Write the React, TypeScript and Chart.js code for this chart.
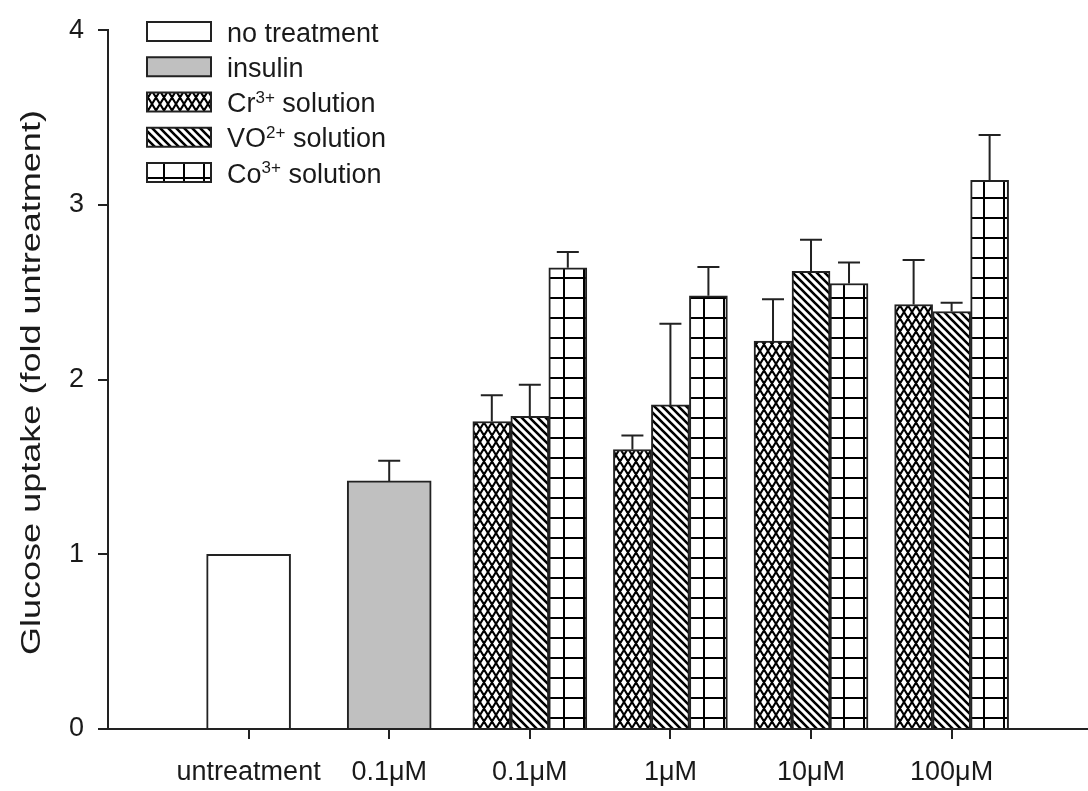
import React, { useEffect, useRef } from 'react';
import { Chart, registerables } from 'chart.js';

Chart.register(...registerables);

// ---------- data ----------
const categories = ['untreatment', '0.1\u03bcM', '0.1\u03bcM', '1\u03bcM', '10\u03bcM', '100\u03bcM'];

const noTreatment: (number | null)[] = [1.0, null, null, null, null, null];
const noTreatmentErr: (number | null)[] = [null, null, null, null, null, null];

const insulin: (number | null)[] = [null, 1.42, null, null, null, null];
const insulinErr: (number | null)[] = [null, 0.115, null, null, null, null];

const crSolution: (number | null)[] = [null, null, 1.76, 1.6, 2.22, 2.43];
const crErr: (number | null)[] = [null, null, 0.15, 0.08, 0.24, 0.255];

const voSolution: (number | null)[] = [null, null, 1.79, 1.855, 2.62, 2.39];
const voErr: (number | null)[] = [null, null, 0.18, 0.465, 0.18, 0.05];

const coSolution: (number | null)[] = [null, null, 2.64, 2.48, 2.55, 3.14];
const coErr: (number | null)[] = [null, null, 0.09, 0.165, 0.12, 0.26];

const yTickValues = [0, 1, 2, 3, 4];
const yTitle = 'Glucose uptake (fold untreatment)';

const legendMain = ['no treatment', 'insulin', 'Cr', 'VO', 'Co'];
const legendSup = ['', '', '3+', '2+', '3+'];
const legendTail = ['', '', ' solution', ' solution', ' solution'];

// ---------- styles ----------
const FONT = '"Liberation Sans", Arial, Helvetica, sans-serif';
const TEXT = '#1a1a1a';
const LINE = '#222222';

function tile(w: number, h: number, draw: (g: CanvasRenderingContext2D) => void) {
  const c = document.createElement('canvas');
  c.width = w;
  c.height = h;
  const g = c.getContext('2d')!;
  g.fillStyle = '#ffffff';
  g.fillRect(0, 0, w, h);
  g.strokeStyle = '#000000';
  g.fillStyle = '#000000';
  draw(g);
  return c;
}

function makePatterns(ctx: CanvasRenderingContext2D) {
  // cross hatch (Cr)
  const crTile = tile(8, 13, (g) => {
    g.lineWidth = 2.1;
    g.beginPath();
    for (let k = -3; k <= 3; k++) {
      const dx = k * 8;
      g.moveTo(dx - 8, -13);
      g.lineTo(dx + 16, 26);
      g.moveTo(dx + 16, -13);
      g.lineTo(dx - 8, 26);
    }
    g.stroke();
  });
  // diagonal "\" (VO)
  const voTile = tile(8, 8, (g) => {
    g.lineWidth = 2.6;
    g.beginPath();
    for (let k = -3; k <= 3; k++) {
      const dx = k * 8;
      g.moveTo(dx - 8, -8);
      g.lineTo(dx + 16, 16);
    }
    g.stroke();
  });
  // grid (Co)
  const coTile = tile(20, 20, (g) => {
    g.fillRect(3, 0, 2, 20);
    g.fillRect(0, 17, 20, 2);
  });
  return {
    cr: ctx.createPattern(crTile, 'repeat')!,
    vo: ctx.createPattern(voTile, 'repeat')!,
    co: ctx.createPattern(coTile, 'repeat')!,
  };
}

const toPoints = (arr: (number | null)[]) => arr.map((v, i) => ({ x: i + 1, y: v }));

const errorBarPlugin = {
  id: 'errorBars',
  afterDatasetsDraw(chart: any) {
    const ctx: CanvasRenderingContext2D = chart.ctx;
    const ys = chart.scales.y;
    chart.data.datasets.forEach((ds: any, di: number) => {
      const errs: (number | null)[] = ds.errors;
      if (!errs) return;
      const meta = chart.getDatasetMeta(di);
      meta.data.forEach((bar: any, i: number) => {
        const v = ds.data[i].y;
        const e = errs[i];
        if (v == null || e == null) return;
        const top = ys.getPixelForValue(v + e);
        ctx.save();
        ctx.strokeStyle = LINE;
        ctx.lineWidth = 2;
        ctx.beginPath();
        ctx.moveTo(bar.x, bar.y);
        ctx.lineTo(bar.x, top);
        ctx.moveTo(bar.x - 11, top);
        ctx.lineTo(bar.x + 11, top);
        ctx.stroke();
        ctx.restore();
      });
    });
  },
};

const decorPlugin = {
  id: 'decor',
  afterDraw(chart: any) {
    const ctx: CanvasRenderingContext2D = chart.ctx;
    const area = chart.chartArea;
    // y axis title
    ctx.save();
    ctx.font = `27px ${FONT}`;
    const w = ctx.measureText(yTitle).width;
    ctx.translate(33, (area.top + area.bottom) / 2 + 3);
    ctx.rotate(-Math.PI / 2);
    ctx.scale(545 / w, 1);
    ctx.textAlign = 'center';
    ctx.textBaseline = 'middle';
    ctx.fillStyle = TEXT;
    ctx.fillText(yTitle, 0, 0);
    ctx.restore();

    // legend
    const ds = chart.data.datasets;
    for (let i = 0; i < legendMain.length; i++) {
      const top = 22 + i * 35.25;
      const bx = 147;
      const bw = 64;
      const bh = 19;
      ctx.save();
      ctx.fillStyle = ds[i].backgroundColor;
      ctx.fillRect(bx, top, bw, bh);
      ctx.strokeStyle = LINE;
      ctx.lineWidth = 2;
      ctx.strokeRect(bx, top, bw, bh);
      ctx.fillStyle = TEXT;
      ctx.textBaseline = 'alphabetic';
      ctx.textAlign = 'left';
      let x = 227;
      const base = top + 19.5;
      ctx.font = `27px ${FONT}`;
      ctx.fillText(legendMain[i], x, base);
      x += ctx.measureText(legendMain[i]).width;
      if (legendSup[i]) {
        ctx.font = `17px ${FONT}`;
        ctx.fillText(legendSup[i], x, base - 9.5);
        x += ctx.measureText(legendSup[i]).width;
      }
      if (legendTail[i]) {
        ctx.font = `27px ${FONT}`;
        ctx.fillText(legendTail[i], x, base);
      }
      ctx.restore();
    }
  },
};

export default function App() {
  const ref = useRef<HTMLCanvasElement>(null);

  useEffect(() => {
    const canvas = ref.current!;
    const ctx = canvas.getContext('2d')!;
    const p = makePatterns(ctx);

    const common = {
      borderColor: LINE,
      borderWidth: 2,
      grouped: true,
      skipNull: true,
    };

    const chart = new Chart(ctx, {
      type: 'bar',
      data: {
        datasets: [
          { ...common, label: 'no treatment', data: toPoints(noTreatment), errors: noTreatmentErr, backgroundColor: '#ffffff', barThickness: 84 },
          { ...common, label: 'insulin', data: toPoints(insulin), errors: insulinErr, backgroundColor: '#c0c0c0', barThickness: 84 },
          { ...common, label: 'Cr3+ solution', data: toPoints(crSolution), errors: crErr, backgroundColor: p.cr, barThickness: 38 },
          { ...common, label: 'VO2+ solution', data: toPoints(voSolution), errors: voErr, backgroundColor: p.vo, barThickness: 38 },
          { ...common, label: 'Co3+ solution', data: toPoints(coSolution), errors: coErr, backgroundColor: p.co, barThickness: 38 },
        ] as any,
      },
      options: {
        responsive: false,
        maintainAspectRatio: false,
        animation: false,
        devicePixelRatio: 1,
        layout: { padding: { top: 20, right: 0, bottom: 0, left: 0 } },
        plugins: {
          legend: { display: false },
          tooltip: { enabled: false },
          title: { display: false },
        },
        scales: {
          x: {
            type: 'linear',
            min: 0,
            max: 6.97,
            offset: false,
            afterBuildTicks: (s: any) => {
              s.ticks = categories.map((_, i) => ({ value: i + 1 }));
            },
            afterFit: (s: any) => {
              s.height = 62;
            },
            ticks: {
              autoSkip: false,
              maxRotation: 0,
              minRotation: 0,
              padding: 17,
              color: TEXT,
              font: { family: FONT, size: 27 },
              callback: (v: any) => categories[Math.round(Number(v)) - 1] ?? '',
            },
            grid: {
              offset: false,
              drawOnChartArea: false,
              drawTicks: true,
              tickLength: 10,
              color: LINE,
              lineWidth: 2,
            },
            border: { display: true, color: LINE, width: 2 },
          },
          y: {
            min: 0,
            max: 4,
            afterBuildTicks: (s: any) => {
              s.ticks = yTickValues.map((v) => ({ value: v }));
            },
            afterFit: (s: any) => {
              s.width = 108;
            },
            ticks: {
              padding: 14,
              color: TEXT,
              font: { family: FONT, size: 27 },
              callback: (v: any) => String(v),
            },
            grid: {
              drawOnChartArea: false,
              drawTicks: true,
              tickLength: 10,
              color: LINE,
              lineWidth: 2,
            },
            border: { display: true, color: LINE, width: 2 },
          },
        },
      } as any,
      plugins: [errorBarPlugin, decorPlugin],
    });

    return () => chart.destroy();
  }, []);

  return (
    <div style={{ position: 'absolute', left: 0, top: 0, width: 1088, height: 791, background: '#ffffff' }}>
      <canvas ref={ref} width={1088} height={791} style={{ display: 'block', width: 1088, height: 791 }} />
    </div>
  );
}
